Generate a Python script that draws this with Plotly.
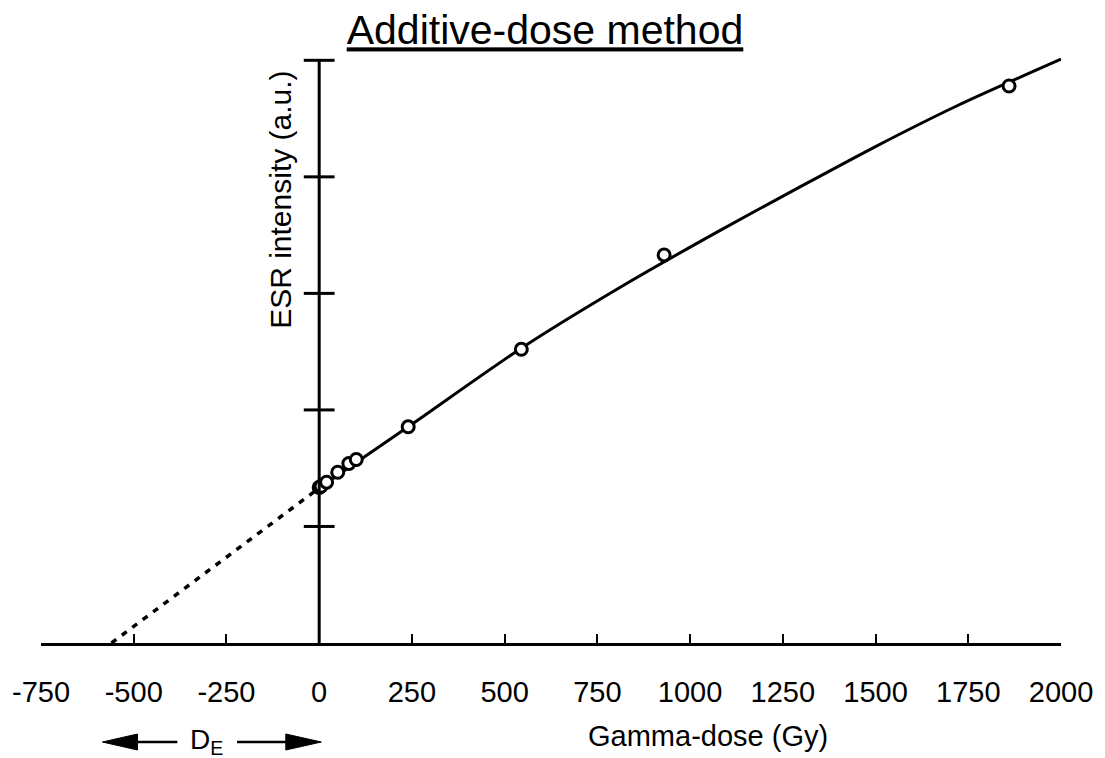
import plotly.graph_objects as go

# ---- data ----
dose_pts = [0, 5, 20, 50, 80, 100, 240, 545, 930, 1860]
esr_pts = [1.335, 1.345, 1.38, 1.465, 1.54, 1.575, 1.855, 2.52, 3.33, 4.78]

fit_dose = [0, 240, 545, 805, 1075, 1300, 1500, 1720, 2000]
fit_esr = [1.33, 1.855, 2.53, 3.04, 3.53, 3.92, 4.26, 4.61, 5.01]

extrap_dose = [-560, 0]
extrap_esr = [0, 1.33]

x_ticks = [-750, -500, -250, 0, 250, 500, 750, 1000, 1250, 1500, 1750, 2000]
x_ticktext = [str(v) for v in x_ticks]
y_ticks = [1, 2, 3, 4, 5]

W, H = 1105, 758
ML, MR, MT, MB = 40, 40, 37, 115
PW, PH = W - ML - MR, H - MT - MB


def px_x(p):
    return (p - ML) / PW


def px_y(p):
    return (H - MB - p) / PH


FONT = "Liberation Sans, Arial, Helvetica, sans-serif"

fig = go.Figure()

fig.add_trace(go.Scatter(
    x=extrap_dose, y=extrap_esr, mode="lines",
    line=dict(color="black", width=3.5, dash="6px,7px"),
    showlegend=False, hoverinfo="skip"))

fig.add_trace(go.Scatter(
    x=fit_dose, y=fit_esr, mode="lines",
    line=dict(color="black", width=3, shape="spline", smoothing=0.8),
    showlegend=False, hoverinfo="skip"))

fig.add_trace(go.Scatter(
    x=dose_pts, y=esr_pts, mode="markers",
    marker=dict(symbol="circle", size=12, color="white",
                line=dict(color="black", width=3)),
    showlegend=False))

fig.add_trace(go.Scatter(
    x=[0] * len(y_ticks), y=y_ticks, mode="markers",
    marker=dict(symbol="line-ew", size=22,
                line=dict(color="black", width=3)),
    showlegend=False, hoverinfo="skip", cliponaxis=False))

shapes = [
    # vertical ESR axis at dose 0
    dict(type="line", xref="x", yref="y", x0=0, x1=0, y0=0, y1=y_ticks[-1],
         line=dict(color="black", width=3), layer="above"),
]

# D_E arrows
ya = px_y(742)
hh = 8 / PH
shapes += [
    dict(type="path", xref="paper", yref="paper",
         path=f"M{px_x(101.7)},{ya} L{px_x(137)},{ya + hh} L{px_x(137)},{ya - hh} Z",
         fillcolor="black", line=dict(color="black", width=1)),
    dict(type="line", xref="paper", yref="paper",
         x0=px_x(135), x1=px_x(177), y0=ya, y1=ya,
         line=dict(color="black", width=2.5)),
    dict(type="path", xref="paper", yref="paper",
         path=f"M{px_x(321.7)},{ya} L{px_x(286)},{ya + hh} L{px_x(286)},{ya - hh} Z",
         fillcolor="black", line=dict(color="black", width=1)),
    dict(type="line", xref="paper", yref="paper",
         x0=px_x(237), x1=px_x(288), y0=ya, y1=ya,
         line=dict(color="black", width=2.5)),
]

annotations = [
    dict(text="ESR intensity (a.u.)", textangle=-90, xref="paper", yref="paper",
         x=px_x(280), y=px_y(200), showarrow=False,
         font=dict(family=FONT, size=30, color="black"),
         xanchor="center", yanchor="middle"),
    dict(text="Gamma-dose (Gy)", xref="paper", yref="paper",
         x=px_x(710), y=px_y(736), showarrow=False,
         font=dict(family=FONT, size=29, color="black"),
         xanchor="center", yanchor="middle"),
    dict(text="D<sub>E</sub>", xref="paper", yref="paper",
         x=px_x(206), y=px_y(741), showarrow=False,
         font=dict(family=FONT, size=28, color="black"),
         xanchor="center", yanchor="middle"),
]

fig.update_layout(
    width=W, height=H,
    margin=dict(l=ML, r=MR, t=MT, b=MB),
    paper_bgcolor="white", plot_bgcolor="white",
    font=dict(family=FONT, color="black"),
    title=dict(text="<u>Additive-dose method</u>", xref="container", yref="container",
               x=545 / W, y=1 - 30 / H, xanchor="center", yanchor="middle",
               font=dict(family=FONT, size=41, color="black")),
    xaxis=dict(range=[-750, 2000], tickvals=x_ticks, ticktext=x_ticktext,
               showline=True, linecolor="black", linewidth=3,
               ticks="inside", ticklen=9, tickwidth=2, tickcolor="black",
               showgrid=False, zeroline=False, ticklabelstandoff=21,
               tickfont=dict(family=FONT, size=29, color="black")),
    yaxis=dict(range=[0, 5.2], visible=False, showgrid=False, zeroline=False),
    shapes=shapes,
    annotations=annotations,
)

fig.write_html("out.html")
